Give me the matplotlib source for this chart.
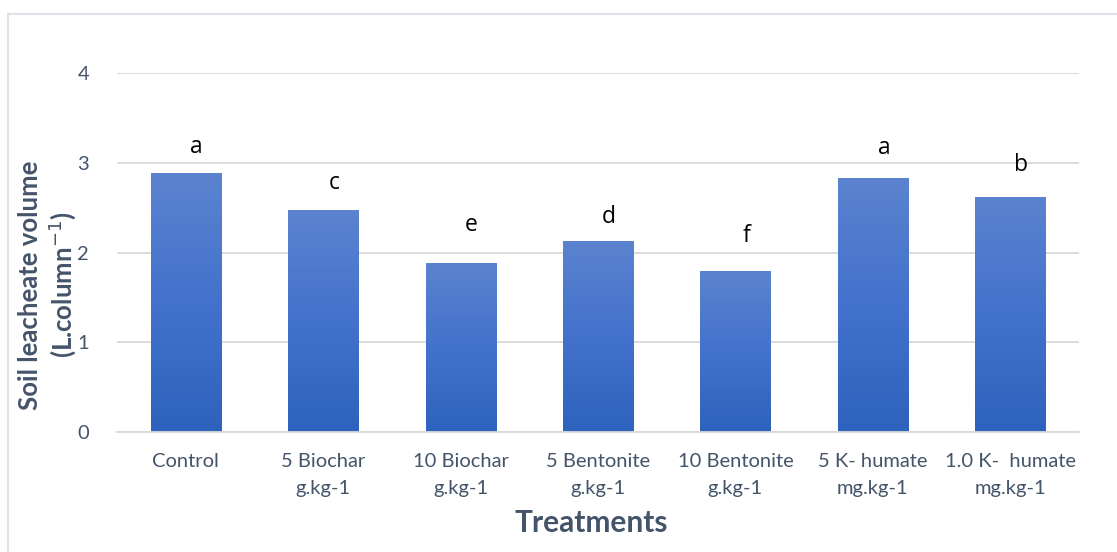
import numpy as np
import matplotlib.pyplot as plt
from matplotlib.patches import Rectangle
from matplotlib.colors import LinearSegmentedColormap

treatments = ['Control', '5 Biochar\ng.kg-1', '10 Biochar\ng.kg-1', '5 Bentonite\ng.kg-1',
              '10 Bentonite\ng.kg-1', '5 K- humate\nmg.kg-1', '1.0 K-  humate\nmg.kg-1']
volume = [2.89, 2.47, 1.88, 2.13, 1.79, 2.83, 2.62]
letters = ['a', 'c', 'e', 'd', 'f', 'a', 'b']
letter_y = [3.18, 2.77, 2.31, 2.40, 2.18, 3.16, 2.97]
yticks = [0, 1, 2, 3, 4]

plt.rcParams['font.family'] = ['Lato', 'DejaVu Sans']
text_col = '#44546A'
grid_col = '#D9D9D9'

fig = plt.figure(figsize=(11.17, 5.52), dpi=100)
ax = fig.add_axes([117 / 1117, 1 - 432 / 552, 962 / 1117, 359 / 552])

x = np.arange(len(treatments))
bars = ax.bar(x, volume, width=0.51, color='none', zorder=2)

# vertical gradient, light at the top, darker at the bottom
cmap = LinearSegmentedColormap.from_list('bar', ['#2E62BC', '#4372CC', '#5B83CF'])
grad = np.linspace(0, 1, 256).reshape(-1, 1)
for b in bars:
    x0, y0 = b.get_x(), b.get_y()
    im = ax.imshow(grad, cmap=cmap, origin='lower', aspect='auto', zorder=2,
                   extent=[x0, x0 + b.get_width(), y0, y0 + b.get_height()])
    im.set_clip_path(b)

for xi, ly, lab in zip(x, letter_y, letters):
    ax.text(xi + 0.08, ly, lab, ha='center', va='center', fontsize=16.5,
            color='black', family=['Open Sans', 'DejaVu Sans'])

ax.set_xlim(-0.5, len(treatments) - 0.5)
ax.set_ylim(0, 4)
ax.set_yticks(yticks)
ax.set_xticks(x)
ax.set_xticklabels(treatments, fontsize=14.5, color=text_col, linespacing=1.75)
ax.tick_params(axis='y', labelsize=14.5, labelcolor=text_col, length=0, pad=20)
ax.tick_params(axis='x', length=0, pad=15)
ax.grid(axis='y', color=grid_col, linewidth=1.3, zorder=0)
for s in ['top', 'right', 'left']:
    ax.spines[s].set_visible(False)
ax.spines['bottom'].set_color(grid_col)
ax.spines['bottom'].set_linewidth(1.3)

fig.text(591 / 1117, 1 - 523 / 552, 'Treatments', ha='center', va='center',
         fontsize=21.5, fontweight='bold', color=text_col)
fig.text(48 / 1117, 1 - 285 / 552, 'Soil leacheate volume\n(L.column$^{-1}$)',
         ha='center', va='center', rotation=90, fontsize=18.5, fontweight='bold',
         color=text_col, linespacing=1.15)

# chart frame (only left and top edges fall inside the picture)
fig.patches.append(Rectangle((8 / 1117, -0.1), 1.2, 1 - 14 / 552 + 0.1,
                             transform=fig.transFigure, fill=False,
                             edgecolor='#DCE1EA', linewidth=1.5))

fig.savefig('out.png', dpi=100)
